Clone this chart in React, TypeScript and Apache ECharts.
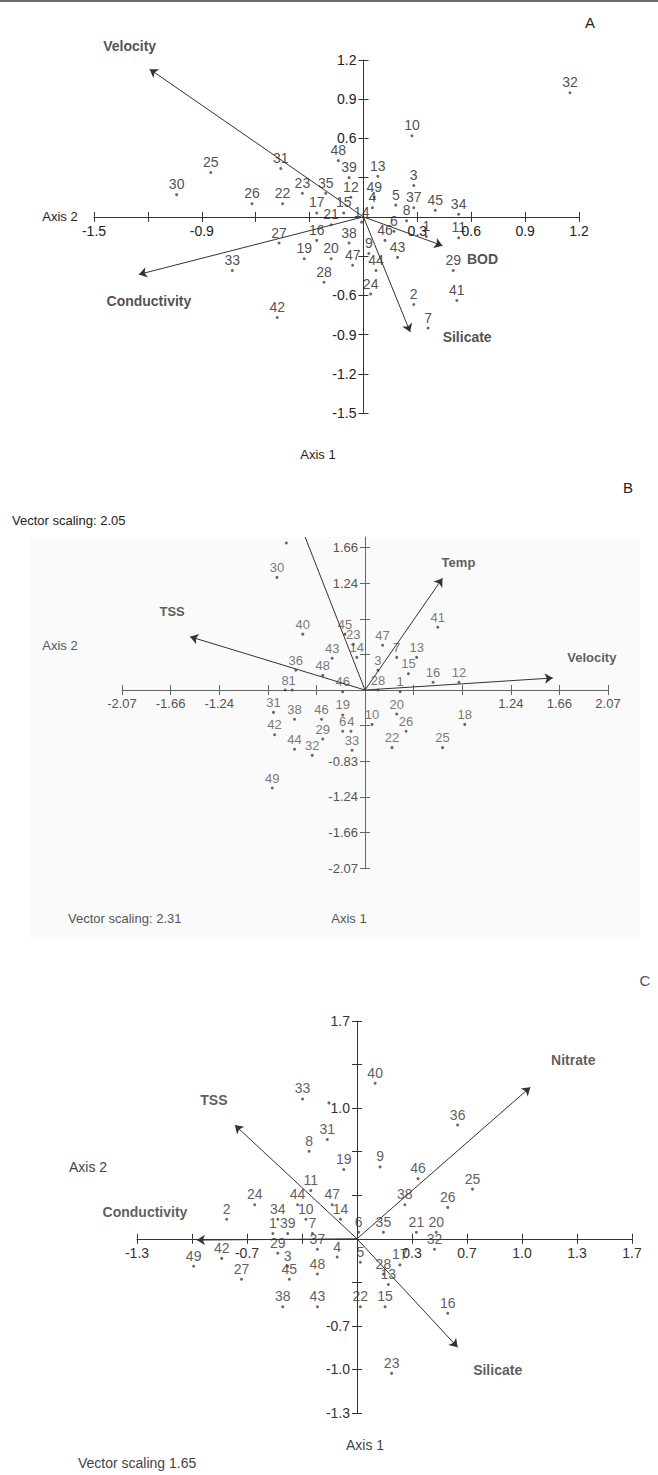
import React, { useEffect, useRef } from "react";
import * as echarts from "echarts";

// ---------- Panel A ----------
const A_POINTS: [string, number, number][] = [
  ["32", 1.15, 0.95], ["10", 0.27, 0.62], ["48", -0.14, 0.43], ["39", -0.08, 0.30], ["13", 0.08, 0.31],
  ["3", 0.28, 0.24], ["12", -0.07, 0.15], ["49", 0.06, 0.15], ["4", 0.05, 0.07], ["5", 0.18, 0.09],
  ["37", 0.28, 0.07], ["45", 0.40, 0.05], ["34", 0.53, 0.02], ["8", 0.24, -0.03], ["6", 0.17, -0.11],
  ["1", 0.35, -0.15], ["11", 0.53, -0.16], ["14", -0.01, -0.04], ["15", -0.11, 0.03], ["17", -0.26, 0.03],
  ["21", -0.18, -0.06], ["23", -0.34, 0.18], ["35", -0.21, 0.18], ["22", -0.45, 0.10], ["26", -0.62, 0.10],
  ["31", -0.46, 0.37], ["25", -0.85, 0.34], ["30", -1.04, 0.17], ["27", -0.47, -0.20], ["16", -0.26, -0.18],
  ["38", -0.08, -0.20], ["19", -0.33, -0.32], ["20", -0.18, -0.32], ["47", -0.06, -0.37], ["9", 0.03, -0.28],
  ["44", 0.07, -0.41], ["28", -0.22, -0.50], ["24", 0.04, -0.59], ["33", -0.73, -0.41], ["42", -0.48, -0.77],
  ["46", 0.12, -0.18], ["43", 0.19, -0.31], ["29", 0.50, -0.41], ["2", 0.28, -0.67], ["41", 0.52, -0.64],
  ["7", 0.36, -0.85],
];
const A_VECTORS: [string, number, number][] = [
  ["Velocity", -1.19, 1.13], ["Conductivity", -1.25, -0.44], ["BOD", 0.44, -0.22], ["Silicate", 0.26, -0.88],
];
const A_TICKS = [-1.5, -1.2, -0.9, -0.6, -0.3, 0, 0.3, 0.6, 0.9, 1.2];
const A_XLABELS = [-1.5, -0.9, 0.3, 0.6, 0.9, 1.2];
const A_YLABELS = [1.2, 0.9, 0.6, -0.6, -0.9, -1.2, -1.5];

// ---------- Panel B ----------
const B_POINTS: [string, number, number][] = [
  ["30", -0.75, 1.31], ["", -0.67, 1.71], ["40", -0.53, 0.65], ["43", -0.28, 0.37], ["36", -0.59, 0.23],
  ["48", -0.36, 0.17], ["8", -0.68, 0.0], ["1", -0.62, 0.0], ["31", -0.78, -0.26], ["38", -0.60, -0.34],
  ["46", -0.37, -0.34], ["42", -0.77, -0.52], ["29", -0.36, -0.57], ["44", -0.60, -0.69], ["32", -0.45, -0.76],
  ["49", -0.79, -1.14], ["41", 0.62, 0.73], ["45", -0.17, 0.65], ["23", -0.10, 0.53], ["47", 0.15, 0.52],
  ["7", 0.27, 0.38], ["13", 0.44, 0.38], ["14", -0.07, 0.38], ["3", 0.11, 0.23], ["15", 0.37, 0.19],
  ["16", 0.58, 0.09], ["12", 0.80, 0.09], ["1", 0.30, -0.02], ["28", 0.11, 0.0], ["46", -0.19, -0.02],
  ["19", -0.19, -0.29], ["10", 0.06, -0.40], ["20", 0.27, -0.28], ["26", 0.35, -0.48], ["6", -0.19, -0.48],
  ["4", -0.12, -0.48], ["22", 0.23, -0.67], ["33", -0.11, -0.70], ["25", 0.66, -0.67], ["18", 0.85, -0.40],
];
const B_VECTORS: [string, number, number][] = [
  ["Temp", 0.66, 1.30], ["TSS", -1.49, 0.62], ["Velocity", 1.60, 0.14], ["", -0.51, 1.78],
];
const B_TICKS = [-2.07, -1.656, -1.242, -0.828, -0.414, 0, 0.414, 0.828, 1.242, 1.656];
const B_XTICKS = [...B_TICKS, 2.07];
const B_XLABELS = [-2.07, -1.656, -1.242, 1.242, 1.656, 2.07];
const B_YLABELS = [1.656, 1.242, -0.828, -1.242, -1.656, -2.07];

// ---------- Panel C ----------
const C_POINTS: [string, number, number][] = [
  ["18", 0.43, 1.67], ["40", 0.11, 1.19], ["33", -0.33, 1.07], ["", -0.17, 1.04], ["31", -0.18, 0.76],
  ["8", -0.29, 0.67], ["19", -0.08, 0.53], ["9", 0.14, 0.55], ["36", 0.61, 0.87], ["11", -0.28, 0.37],
  ["24", -0.62, 0.26], ["44", -0.36, 0.26], ["47", -0.15, 0.26], ["46", 0.37, 0.46], ["25", 0.70, 0.38],
  ["38", 0.29, 0.26], ["26", 0.55, 0.24], ["2", -0.79, 0.15], ["34", -0.48, 0.15], ["10", -0.31, 0.15],
  ["14", -0.10, 0.15], ["6", 0.01, 0.05], ["35", 0.16, 0.05], ["21", 0.36, 0.05], ["20", 0.48, 0.05],
  ["1", -0.51, 0.04], ["39", -0.42, 0.04], ["7", -0.27, 0.04], ["32", 0.47, -0.08], ["29", -0.48, -0.11],
  ["37", -0.24, -0.08], ["4", -0.12, -0.14], ["5", 0.02, -0.18], ["3", -0.42, -0.21], ["45", -0.41, -0.31],
  ["48", -0.24, -0.27], ["42", -0.82, -0.15], ["49", -0.99, -0.21], ["27", -0.70, -0.31], ["28", 0.16, -0.27],
  ["17", 0.26, -0.20], ["13", 0.19, -0.35], ["38", -0.45, -0.52], ["43", -0.24, -0.52], ["22", 0.02, -0.52],
  ["15", 0.17, -0.52], ["16", 0.55, -0.57], ["23", 0.21, -1.03],
];
const C_VECTORS: [string, number, number][] = [
  ["Nitrate", 1.05, 1.16], ["TSS", -0.74, 0.87], ["Conductivity", -0.97, -0.01], ["Silicate", 0.61, -0.83],
];
const C_TICKS = [-4, -3, -2, -1, 0, 1, 2, 3, 4, 5].map((k) => k / 3);
const C_XLABELS = [-4, -2, 1, 2, 3, 4, 5].map((k) => k / 3);
const C_YLABELS = [5, 3, -2, -3, -4].map((k) => k / 3);

// ---------- layout (pixel offsets of vector names from arrow tips) ----------
const A_NAME_OFFSET = [[-20, -23], [10, 27], [40, 13], [57, 5]];
const B_NAME_OFFSET = [[16, -16], [-18, -25], [39, -20]];
const C_NAME_OFFSET = [[43, -27], [-21, -25], [-52, -28], [40, 23]];

const FONT = "'Liberation Sans', Arial, sans-serif";
const NARROW = "'Liberation Sans Narrow', 'Liberation Sans', Arial, sans-serif";

type Panel = {
  points: [string, number, number][];
  vectors: [string, number, number][];
  offsets: number[][];
  xr: [number, number];
  yr: [number, number];
  xticks: number[];
  yticks: number[];
  xlabels: number[];
  ylabels: number[];
  digits: number;
  grid: { left: number; top: number; width: number; height: number };
  axisColor: string;
  textColor: string;
  fontFamily: string;
  fontSize: number;
  nameColor: string;
};

const PANELS: Panel[] = [
  {
    points: A_POINTS, vectors: A_VECTORS, offsets: A_NAME_OFFSET,
    xr: [-1.5, 1.2], yr: [-1.5, 1.2], xticks: A_TICKS, yticks: A_TICKS,
    xlabels: A_XLABELS, ylabels: A_YLABELS, digits: 1,
    grid: { left: 94, top: 60, width: 485, height: 353 },
    axisColor: "#333", textColor: "#222", fontFamily: FONT, fontSize: 14, nameColor: "#222",
  },
  {
    points: B_POINTS, vectors: B_VECTORS, offsets: B_NAME_OFFSET,
    xr: [-2.07, 2.07], yr: [-2.07, 1.78], xticks: B_XTICKS, yticks: B_TICKS,
    xlabels: B_XLABELS, ylabels: B_YLABELS, digits: 2,
    grid: { left: 122, top: 537, width: 486, height: 331 },
    axisColor: "#666", textColor: "#555", fontFamily: FONT, fontSize: 13, nameColor: "#333",
  },
  {
    points: C_POINTS, vectors: C_VECTORS, offsets: C_NAME_OFFSET,
    xr: [-4 / 3, 5 / 3], yr: [-4 / 3, 5 / 3], xticks: C_TICKS, yticks: C_TICKS,
    xlabels: C_XLABELS, ylabels: C_YLABELS, digits: 1,
    grid: { left: 137, top: 1021, width: 495, height: 392 },
    axisColor: "#333", textColor: "#333", fontFamily: NARROW, fontSize: 14, nameColor: "#333",
  },
];

function hiddenAxis(gi: number, range: [number, number]) {
  return { type: "value", gridIndex: gi, min: range[0], max: range[1], show: false };
}

function visibleAxes(p: Panel, gi: number, dim: "x" | "y") {
  const range = dim === "x" ? p.xr : p.yr;
  const ticks = dim === "x" ? p.xticks : p.yticks;
  const labels = dim === "x" ? p.xlabels : p.ylabels;
  const pos = dim === "x" ? "bottom" : "left";
  const base = {
    type: "value",
    gridIndex: gi,
    min: range[0],
    max: range[1],
    position: pos,
    splitLine: { show: false },
  };
  return [
    {
      ...base,
      axisLine: { show: true, onZero: false, lineStyle: { color: p.axisColor, width: 1 } },
      axisTick: { show: true, customValues: ticks, length: 5, inside: false, lineStyle: { color: p.axisColor } },
      axisLabel: {
        show: true,
        customValues: labels,
        formatter: (v: number) => v.toFixed(p.digits),
        color: p.textColor,
        fontSize: p.fontSize,
        fontFamily: p.fontFamily,
        margin: 7,
      },
    },
    {
      ...base,
      axisLine: { show: false, onZero: false },
      axisTick: { show: true, customValues: ticks, length: 5, inside: true, lineStyle: { color: p.axisColor } },
      axisLabel: { show: false },
    },
  ];
}

function text(t: string, x: number, y: number, opts: any = {}) {
  const align = opts.align || "center";
  return {
    type: "text",
    x,
    y,
    z: 100,
    style: {
      text: t,
      fill: opts.color || "#222",
      fontSize: opts.size || 13,
      fontFamily: opts.family || FONT,
      fontWeight: opts.weight || "normal",
      align,
      textAlign: align,
      verticalAlign: "middle",
      textVerticalAlign: "middle",
    },
  };
}

export default function App() {
  const ref = useRef<HTMLDivElement>(null);
  useEffect(() => {
    document.body.style.margin = "0";
    if (!ref.current) return;
    const chart = echarts.init(ref.current, undefined, { renderer: "svg" });

    const grids: any[] = [];
    const xAxes: any[] = [];
    const yAxes: any[] = [];
    const series: any[] = [];

    PANELS.forEach((p) => {
      const g = p.grid;
      const zeroX = g.left + ((0 - p.xr[0]) / (p.xr[1] - p.xr[0])) * g.width;
      const zeroY = g.top + ((p.yr[1] - 0) / (p.yr[1] - p.yr[0])) * g.height;

      const gMain = grids.length;
      grids.push({ ...g });
      const xMain = xAxes.length;
      xAxes.push(hiddenAxis(gMain, p.xr));
      const yMain = yAxes.length;
      yAxes.push(hiddenAxis(gMain, p.yr));

      const gX = grids.length;
      grids.push({ left: g.left, width: g.width, top: g.top, height: zeroY - g.top });
      xAxes.push(...visibleAxes(p, gX, "x"));
      yAxes.push(hiddenAxis(gX, [0, 1]));

      const gY = grids.length;
      grids.push({ left: zeroX, width: g.left + g.width - zeroX, top: g.top, height: g.height });
      yAxes.push(...visibleAxes(p, gY, "y"));
      xAxes.push(hiddenAxis(gY, [0, 1]));

      series.push({
        type: "scatter",
        xAxisIndex: xMain,
        yAxisIndex: yMain,
        symbol: "circle",
        symbolSize: 3,
        itemStyle: { color: "#444" },
        label: {
          show: true,
          position: "top",
          distance: 2,
          formatter: "{b}",
          color: p.textColor,
          fontSize: p.fontSize,
          fontFamily: p.fontFamily,
        },
        labelLayout: { hideOverlap: false },
        data: p.points.map((pt) => ({ name: pt[0], value: [pt[1], pt[2]] })),
        markLine: {
          silent: true,
          animation: false,
          symbol: ["none", "arrow"],
          symbolSize: 8,
          label: { show: false },
          lineStyle: { color: "#333", width: 1, type: "solid" },
          emphasis: { disabled: true },
          data: p.vectors.map((v) => [
            { coord: [0, 0], symbol: "none" },
            { coord: [v[1], v[2]], symbol: v[0] ? "arrow" : "none" },
          ]),
        },
        z: 3,
      });
      series.push({
        type: "scatter",
        xAxisIndex: xMain,
        yAxisIndex: yMain,
        symbolSize: 0,
        itemStyle: { color: "transparent" },
        silent: true,
        data: p.vectors
          .filter((v) => v[0])
          .map((v, i) => ({
            name: v[0],
            value: [v[1], v[2]],
            label: { offset: p.offsets[i] },
          })),
        label: {
          show: true,
          position: "inside",
          formatter: "{b}",
          color: p.nameColor,
          fontWeight: "bold",
          fontSize: p.fontSize,
          fontFamily: p.fontFamily,
        },
        z: 4,
      });
    });

    chart.setOption({
      animation: false,
      backgroundColor: "#fff",
      grid: grids,
      xAxis: xAxes,
      yAxis: yAxes,
      series,
      graphic: [
        { type: "rect", z: -10, shape: { x: 0, y: 0, width: 658, height: 2 }, style: { fill: "#6e6e6e" } },
        { type: "rect", z: -10, shape: { x: 30, y: 537, width: 610, height: 400 }, style: { fill: "#fafafa" } },
        text("A", 590, 22, { size: 15 }),
        text("Axis 2", 60, 216),
        text("Axis 1", 318, 454),
        text("B", 628, 487, { size: 15 }),
        text("Vector scaling: 2.05", 12, 520, { align: "left" }),
        text("Axis 2", 60, 645, { color: "#555" }),
        text("Vector scaling: 2.31", 68, 918, { align: "left", color: "#555" }),
        text("Axis 1", 349, 918, { color: "#555" }),
        text("C", 645, 980, { size: 15, color: "#555" }),
        text("Axis 2", 88, 1167, { color: "#444", family: NARROW, size: 14 }),
        text("Axis 1", 365, 1445, { color: "#444", family: NARROW, size: 14 }),
        text("Vector scaling 1.65", 78, 1463, { align: "left", color: "#444", family: NARROW, size: 14 }),
      ],
    });
    return () => chart.dispose();
  }, []);
  return <div ref={ref} style={{ width: 658, height: 1475 }} />;
}
